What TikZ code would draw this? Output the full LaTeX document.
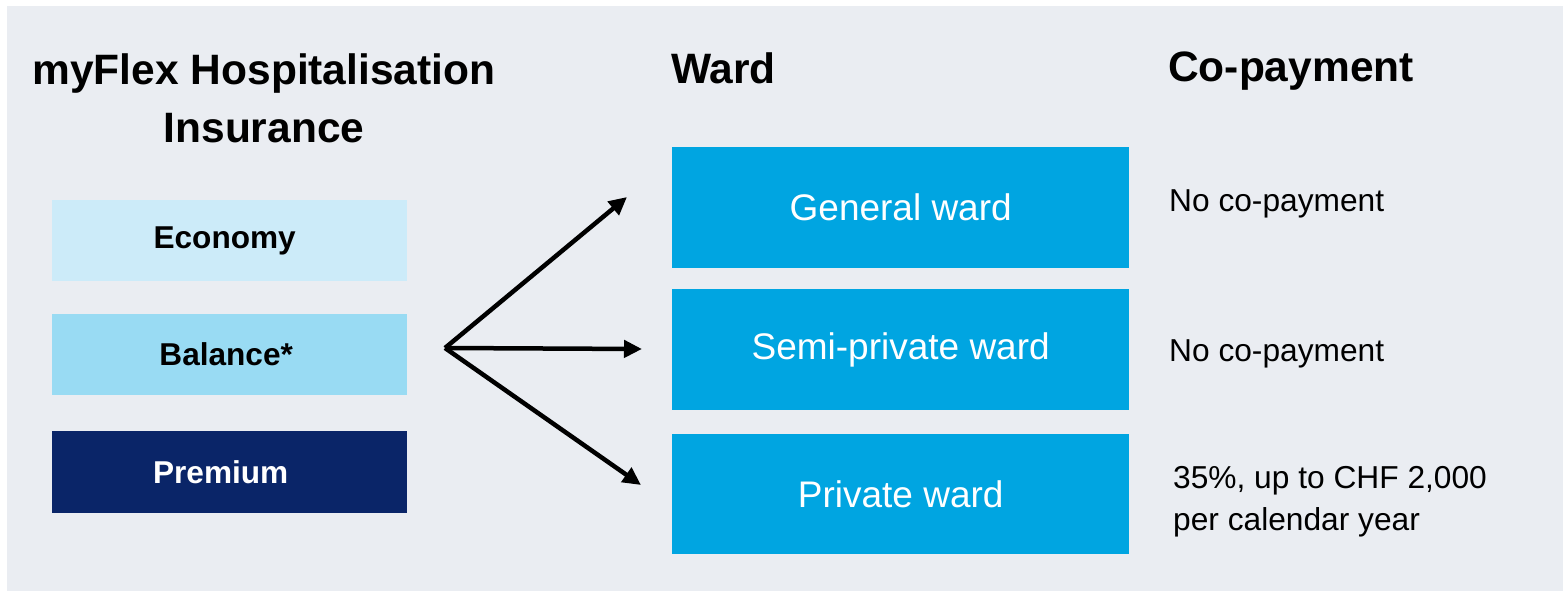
\documentclass[tikz,border=0pt]{standalone}
\usepackage{fontspec}
\setmainfont{Liberation Sans}
\usetikzlibrary{arrows.meta}
\definecolor{bgc}{HTML}{EAEDF2}
\definecolor{econ}{HTML}{CCEBF9}
\definecolor{bal}{HTML}{99DBF3}
\definecolor{prem}{HTML}{0A2568}
\definecolor{ward}{HTML}{00A5E1}
\tikzset{
  plan/.style={minimum width=355pt, minimum height=81pt, inner sep=0pt, anchor=north west, font=\fontsize{31.6}{36}\selectfont\bfseries},
  wardbox/.style={fill=ward, minimum width=457pt, minimum height=121pt, inner sep=0pt, anchor=north west, text=white, font=\fontsize{37}{42}\selectfont},
  head/.style={font=\fontsize{42.5}{58}\selectfont\bfseries, inner sep=0pt},
  note/.style={font=\fontsize{31.7}{42}\selectfont, inner sep=0pt, align=left},
  conn/.style={line width=4.5pt, -{Triangle[length=18pt,width=17pt]}}
}
\begin{document}
\begin{tikzpicture}[x=1pt,y=-1pt]
\useasboundingbox (0,0) rectangle (1565,591);
\fill[bgc] (7,6) rectangle (1563,591);
\node[head, align=center] (title) at (264,98) {myFlex Hospitalisation\\Insurance};
\node[head, anchor=west] (wardh) at (671,68) {Ward};
\node[head, anchor=west] (coh) at (1168,71) {Co-payment};
\node[plan, fill=econ] (econ) at (52,200) {Economy\hspace*{10pt}};
\node[plan, fill=bal] (bal) at (52,314) {Balance*\hspace*{7pt}};
\node[plan, fill=prem, text=white, minimum height=82pt] (prem) at (52,431) {Premium\hspace*{18pt}};
\node[wardbox] (gen) at (672,147) {General ward};
\node[wardbox] (semi) at (672,289) {Semi-private ward};
\node[wardbox, minimum height=120pt] (priv) at (672,434) {Private ward};
\node[note, anchor=west] (n1) at (1169,204) {No co-payment};
\node[note, anchor=west] (n2) at (1169,354) {No co-payment};
\node[note, anchor=west] (n3) at (1173,502) {35\%, up to CHF 2,000\\per calendar year};
\coordinate (o) at (445,348);
\coordinate (e1) at (627,197);
\coordinate (e2) at (642,349);
\coordinate (e3) at (641,485);
\draw[conn] (o) -- (e1);
\draw[conn] (o) -- (e2);
\draw[conn] (o) -- (e3);
\end{tikzpicture}
\end{document}
